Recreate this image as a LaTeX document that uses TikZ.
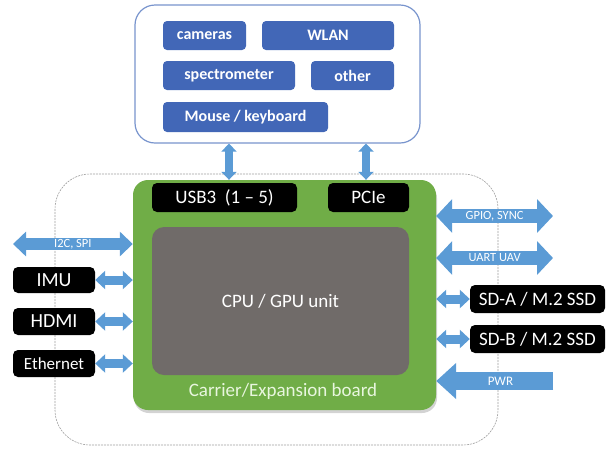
\documentclass[tikz,border=0pt]{standalone}
\usepackage{fontspec}
\setmainfont{Carlito}
\usetikzlibrary{arrows.meta,shadows}
\definecolor{devblue}{RGB}{66,103,183}
\definecolor{devline}{RGB}{120,148,205}
\definecolor{linkblue}{RGB}{91,155,213}
\definecolor{boardgreen}{RGB}{112,173,71}
\definecolor{boardtext}{RGB}{232,246,222}
\definecolor{cpugray}{RGB}{112,107,105}
\begin{document}
\begin{tikzpicture}[x=1pt, y=-1pt,
    every node/.style={font=\fontsize{19}{22}\selectfont, text=white, inner sep=0pt},
    devbox/.style={fill=devblue, rounded corners=4pt, minimum height=29pt, font=\fontsize{16}{19}\selectfont\bfseries},
    blackbox/.style={fill=black, rounded corners=5pt, minimum height=28pt},
    bigbi/.style={linkblue, line width=14pt, {Triangle[length=16pt,width=33pt]}-{Triangle[length=16pt,width=33pt]}},
    smallbi/.style={linkblue, line width=9pt, {Triangle[length=10pt,width=18pt]}-{Triangle[length=10pt,width=18pt]}},
    vbi/.style={linkblue, line width=8pt, {Triangle[length=8pt,width=15pt]}-{Triangle[length=8pt,width=15pt]}},
    pwrin/.style={linkblue, line width=18pt, -{Triangle[length=20pt,width=35pt]}},
    linklabel/.style={font=\fontsize{12.5}{14}\selectfont}]
    \useasboundingbox (0,0) rectangle (606,448);

    \draw[gray!75, line width=0.6pt, dash pattern=on 2pt off 1pt, rounded corners=35pt] (55,174) rectangle (498,445);

    \node[draw=devline, line width=1.2pt, rounded corners=20pt, minimum width=285pt, minimum height=138pt] (dev) at (277.5,74) {};
    \node[devbox, minimum width=83pt] (cam) at (204.5,35.5) {cameras};
    \node[devbox, minimum width=132pt] (wlan) at (328,35.5) {WLAN};
    \node[devbox, minimum width=132pt] (spec) at (229,75.5) {spectrometer};
    \node[devbox, minimum width=83pt] (other) at (352.5,75.5) {other};
    \node[devbox, minimum width=165pt, minimum height=30pt] (mouse) at (245.5,117) {Mouse / keyboard};

    \node[fill=boardgreen, rounded corners=15pt, minimum width=303pt, minimum height=230pt,
          drop shadow={opacity=0.35, shadow xshift=1pt, shadow yshift=-3pt}] (board) at (284.5,295) {};
    \node[blackbox, minimum width=145pt, minimum height=29pt] (usb) at (224.5,197.5) {USB3\ \ (1 -- 5)};
    \node[blackbox, minimum width=81pt, minimum height=29pt] (pcie) at (368.5,197.5) {PCIe};
    \node[fill=cpugray, rounded corners=12pt, minimum width=257pt, minimum height=148pt] (cpu) at (280.5,301) {CPU / GPU unit};
    \node[text=boardtext] (carrier) at (283,391) {Carrier/Expansion board};

    \node[blackbox, minimum width=82pt, minimum height=26pt, font=\fontsize{20}{24}\selectfont] (imu) at (54,280) {IMU};
    \node[blackbox, minimum width=82pt, minimum height=27pt, font=\fontsize{20}{24}\selectfont] (hdmi) at (54,321.5) {HDMI};
    \node[blackbox, minimum width=82pt, minimum height=27pt, font=\fontsize{17}{20}\selectfont] (eth) at (54,363.5) {Ethernet};
    \node[blackbox, minimum width=135pt] (sda) at (537.5,299) {SD-A / M.2 SSD};
    \node[blackbox, minimum width=135pt] (sdb) at (537.5,339) {SD-B / M.2 SSD};

    \coordinate (i2cend) at (13,244);
    \coordinate (gpioend) at (553,216);
    \coordinate (uartend) at (553,258);
    \coordinate (pwrend) at (553,381);

    \draw[vbi] ([xshift=4.5pt]usb.north |- dev.south) -- ([xshift=4.5pt]usb.north |- board.north);
    \draw[vbi] ([xshift=-2.5pt]pcie.north |- dev.south) -- ([xshift=-2.5pt]pcie.north |- board.north);

    \draw[bigbi, line width=12pt, {Triangle[length=13pt,width=24pt]}-{Triangle[length=13pt,width=24pt]}]
        (i2cend) -- (i2cend -| board.west) node[midway, linklabel] {I2C, SPI};
    \draw[smallbi] (imu.east) -- (imu.east -| board.west);
    \draw[smallbi] (hdmi.east) -- (hdmi.east -| board.west);
    \draw[smallbi] (eth.east) -- (eth.east -| board.west);

    \draw[bigbi] (gpioend -| board.east) -- (gpioend) node[midway, linklabel] {GPIO, SYNC};
    \draw[bigbi] (uartend -| board.east) -- (uartend) node[midway, linklabel] {UART UAV};
    \draw[smallbi] (sda.west -| board.east) -- (sda.west);
    \draw[smallbi] (sdb.west -| board.east) -- (sdb.west);
    \draw[pwrin] (pwrend) -- (pwrend -| board.east) node[pos=0.45, linklabel, font=\fontsize{13}{15}\selectfont] {PWR};
\end{tikzpicture}
\end{document}
